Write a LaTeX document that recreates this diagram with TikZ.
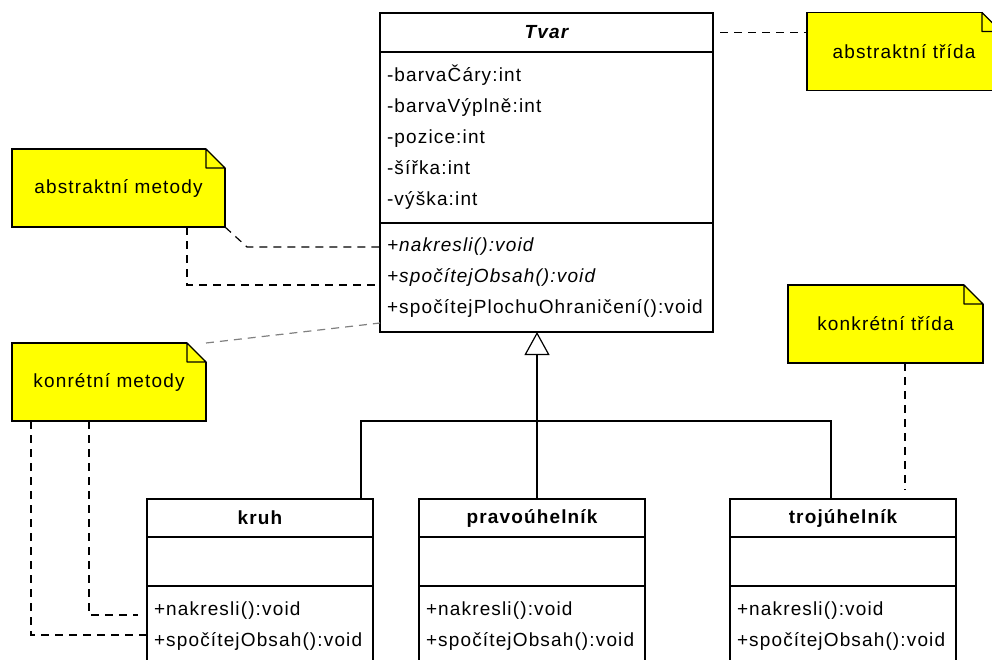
\documentclass[tikz,border=0pt]{standalone}
\usepackage{fontspec}
\setmainfont{Liberation Sans}[LetterSpace=6]
\usetikzlibrary{positioning, arrows.meta}
\definecolor{notefill}{RGB}{255,255,0}
\newcommand{\umlsize}{\fontsize{19}{31}\selectfont}

\begin{document}
\begin{tikzpicture}[x=1pt, y=-1pt, line width=1.2pt, font=\umlsize,
    classname/.style={draw, rectangle, outer sep=0pt, minimum width=226pt, minimum height=38pt, font=\umlsize\bfseries},
    classpart/.style={draw, rectangle, outer sep=0pt, text width=212pt, inner xsep=7pt, align=left},
    note/.style={draw, fill=notefill, rectangle, outer sep=0pt, minimum width=#1, minimum height=78pt},
    dashline/.style={draw, dash pattern=on 8pt off 6pt},
    inherit/.style={draw, -{Triangle[open, length=23pt, width=25pt]}}]

    \clip (0,0) rectangle (992,659);

    % abstract class
    \node [classname, minimum width=333pt, minimum height=39pt, font=\umlsize\bfseries\itshape] (tvar) at (546.5,32.5) {Tvar};
    \node [classpart, text width=319pt, minimum height=171pt, below=0pt of tvar] (tvarattr) {-barvaČáry:int\\-barvaVýplně:int\\-pozice:int\\-šířka:int\\-výška:int};
    \node [classpart, text width=319pt, minimum height=109pt, below=0pt of tvarattr] (tvarmeth) {\textit{+nakresli():void}\\\textit{+spočítejObsah():void}\\+spočítejPlochuOhraničení():void};

    % concrete classes
    \node [classname] (kruh) at (260,518) {kruh};
    \node [classpart, minimum height=49pt, below=0pt of kruh] (kruhattr) {};
    \node [classpart, minimum height=80pt, below=0pt of kruhattr] (kruhmeth) {+nakresli():void\\+spočítejObsah():void};

    \node [classname] (pravouhelnik) at (532,518) {pravoúhelník};
    \node [classpart, minimum height=49pt, below=0pt of pravouhelnik] (pravouhelnikattr) {};
    \node [classpart, minimum height=80pt, below=0pt of pravouhelnikattr] (pravouhelnikmeth) {+nakresli():void\\+spočítejObsah():void};

    \node [classname] (trojuhelnik) at (843,518) {trojúhelník};
    \node [classpart, minimum height=49pt, below=0pt of trojuhelnik] (trojuhelnikattr) {};
    \node [classpart, minimum height=80pt, below=0pt of trojuhelnikattr] (trojuhelnikmeth) {+nakresli():void\\+spočítejObsah():void};

    % notes
    \node [note=194pt] (abstrakttrida) at (904,51.5) {abstraktní třída};
    \node [note=213pt] (abstraktmetody) at (118.5,188) {abstraktní metody};
    \node [note=194pt] (konkretmetody) at (109,382) {konrétní metody};
    \node [note=195pt] (konkrettrida) at (885.5,324) {konkrétní třída};

    % folded corners
    \foreach \n in {abstrakttrida, abstraktmetody, konkretmetody, konkrettrida} {
        \fill [white] ([xshift=-19pt, yshift=0.8pt]\n.north east) -- ([xshift=0.8pt, yshift=0.8pt]\n.north east) -- ([xshift=0.8pt, yshift=-19pt]\n.north east) -- cycle;
        \draw [line join=round] ([xshift=-19pt]\n.north east) -- ([yshift=-19pt]\n.north east) -- ([xshift=-19pt, yshift=-19pt]\n.north east) -- cycle;
    }

    % inheritance
    \coordinate (fork) at (537,421);
    \draw [inherit] ([xshift=5pt]pravouhelnik.north) -- ([xshift=-9.5pt]tvarmeth.south);
    \draw ([xshift=101pt]kruh.north) |- (fork) -| ([xshift=-12pt]trojuhelnik.north);

    % note links
    \draw [dashline, shorten <=7pt] (tvar.east) -- (tvar.east -| abstrakttrida.west);
    \draw [dashline] (abstraktmetody.south east) -- ++(22,20) -- ([yshift=-24pt]tvarmeth.north west);
    \draw [dashline] ([xshift=68.5pt]abstraktmetody.south) |- ([yshift=-62pt]tvarmeth.north west);
    \draw [dashline, draw=gray] (konkretmetody.north east) -- ([yshift=9pt]tvarmeth.south west);
    \draw [dashline, shorten >=9pt] ([xshift=-20pt]konkretmetody.south) |- ([yshift=-29pt]kruhmeth.north west);
    \draw [dashline] ([xshift=-78pt]konkretmetody.south) |- ([yshift=-49pt]kruhmeth.north west);
    \draw [dashline, shorten >=9pt] ([xshift=19.5pt]konkrettrida.south) -- ([xshift=19.5pt]konkrettrida.south |- trojuhelnik.north);

\end{tikzpicture}
\end{document}
